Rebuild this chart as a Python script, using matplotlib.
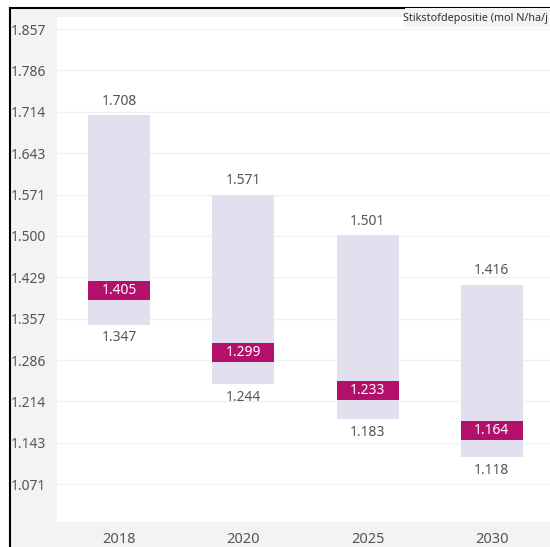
import matplotlib.pyplot as plt
from matplotlib.lines import Line2D
from matplotlib.patches import Rectangle

plt.rcParams["font.family"] = ["Noto Sans", "DejaVu Sans"]

jaren = ["2018", "2020", "2025", "2030"]
boven = [1708, 1571, 1501, 1416]
onder = [1347, 1244, 1183, 1118]
mediaan = [1405, 1299, 1233, 1164]
y_ticks = [1071.4, 1142.9, 1214.3, 1285.7, 1357.1, 1428.6,
           1500.0, 1571.4, 1642.9, 1714.3, 1785.7, 1857.1]
titel = "Stikstofdepositie (mol N/ha/j"

GRIJS = "#555555"
BAND = "#e2e0ee"
ROZE = "#b3106c"


def fmt(v):
    # Nederlands duizendtal-scheidingsteken
    return f"{round(v):,}".replace(",", ".")


fig = plt.figure(figsize=(5.5, 5.47), dpi=100)
fig.patch.set_facecolor("white")

# grijze achtergrond + zwart kader links/boven
fig.add_artist(Rectangle((10 / 550, 0), 1, 1 - 8 / 547, transform=fig.transFigure,
                         facecolor="#f3f3f3", edgecolor="none", zorder=-10))
fig.add_artist(Line2D([9.5 / 550, 9.5 / 550], [0, 1 - 7.5 / 547], transform=fig.transFigure,
                      color="black", linewidth=1.5, zorder=5))
fig.add_artist(Line2D([9.5 / 550, 1], [1 - 7.5 / 547, 1 - 7.5 / 547], transform=fig.transFigure,
                      color="black", linewidth=1.5, zorder=5))

ax = fig.add_axes([57 / 550, 25 / 547, 497 / 550, 505 / 547])
ax.set_facecolor("white")
ax.set_xlim(-0.5, 3.5)
ax.set_ylim(1006, 1878)
for s in ax.spines.values():
    s.set_visible(False)

x = range(len(jaren))
ax.bar(x, [b - o for b, o in zip(boven, onder)], bottom=onder, width=0.5,
       color=BAND, zorder=2)

box_h = 33
ax.bar(x, box_h, bottom=[m - box_h / 2 for m in mediaan], width=0.5,
       color=ROZE, zorder=3)

for i in x:
    ax.text(i, boven[i] + 24, fmt(boven[i]), ha="center", va="center",
            fontsize=10, color=GRIJS, zorder=4)
    ax.text(i, onder[i] - 23, fmt(onder[i]), ha="center", va="center",
            fontsize=10, color=GRIJS, zorder=4)
    ax.text(i, mediaan[i], fmt(mediaan[i]), ha="center", va="center",
            fontsize=10, color="white", zorder=4)

ax.set_yticks(y_ticks)
ax.set_yticklabels([fmt(v) for v in y_ticks])
ax.yaxis.grid(True, color="#f1f1f1", linewidth=1, zorder=0)
ax.set_axisbelow(True)
ax.tick_params(axis="y", length=0, pad=33, labelsize=10, labelcolor=GRIJS)
for lab in ax.get_yticklabels():
    lab.set_horizontalalignment("left")

ax.set_xticks(list(x))
ax.set_xticklabels(jaren)
ax.tick_params(axis="x", length=0, pad=7, labelsize=10.5, labelcolor=GRIJS)

fig.add_artist(Rectangle((405 / 550, 1 - 27 / 547), 1, 19 / 547, transform=fig.transFigure,
                         facecolor="#f3f3f3", edgecolor="none", zorder=6))
fig.text(548 / 550, 1 - 18 / 547, titel, ha="right", va="center", fontsize=7.8,
         color="#333333", zorder=7)

fig.savefig("out.png", dpi=100)
